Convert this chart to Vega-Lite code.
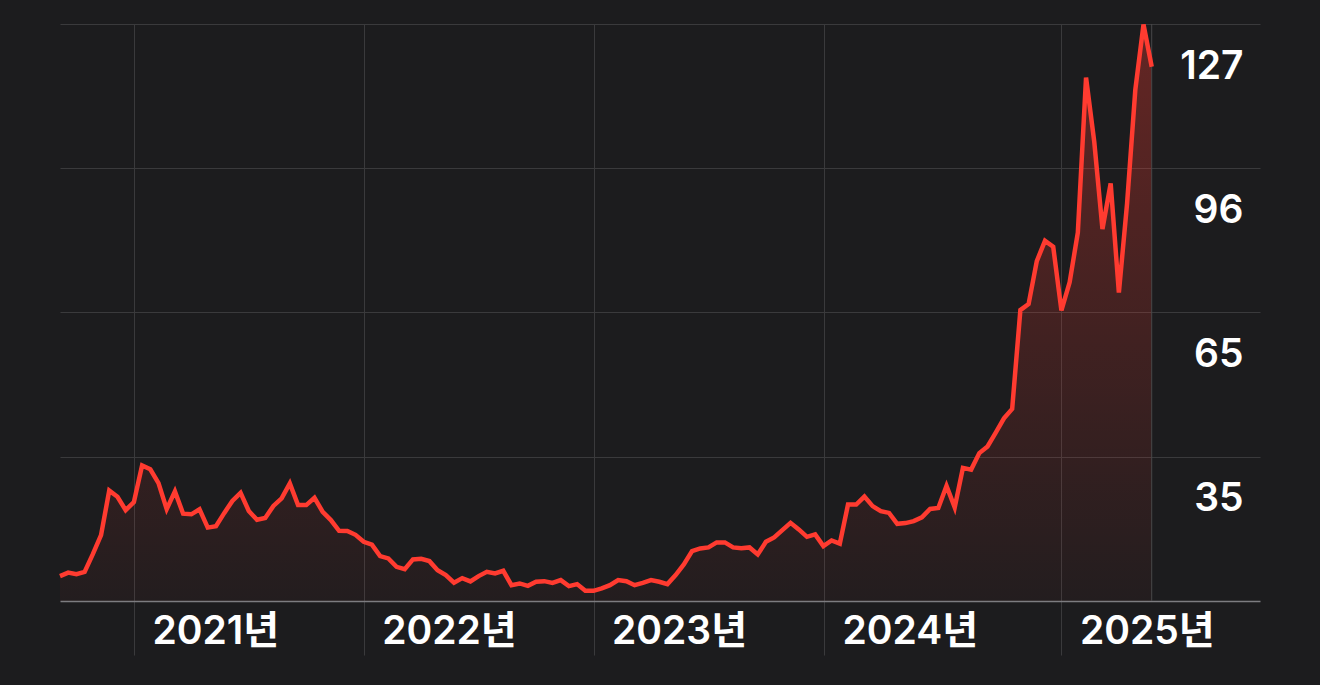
{
  "$schema": "https://vega.github.io/schema/vega-lite/v6.json",
  "width": 1200,
  "height": 577,
  "autosize": {"type": "none"},
  "padding": {"left": 60, "top": 24, "right": 60, "bottom": 84},
  "background": "#1c1c1e",
  "config": {"view": {"stroke": null}},
  "datasets": {
    "prices": [
      {"date": "2020-09-08", "price": 9.62},
      {"date": "2020-09-21", "price": 10.36},
      {"date": "2020-10-04", "price": 10.04},
      {"date": "2020-10-17", "price": 10.51},
      {"date": "2020-10-30", "price": 14.30},
      {"date": "2020-11-12", "price": 18.34},
      {"date": "2020-11-25", "price": 27.80},
      {"date": "2020-12-08", "price": 26.48},
      {"date": "2020-12-21", "price": 23.65},
      {"date": "2021-01-03", "price": 25.35},
      {"date": "2021-01-16", "price": 33.16},
      {"date": "2021-01-29", "price": 32.33},
      {"date": "2021-02-11", "price": 29.39},
      {"date": "2021-02-24", "price": 23.86},
      {"date": "2021-03-09", "price": 27.63},
      {"date": "2021-03-22", "price": 22.89},
      {"date": "2021-04-04", "price": 22.76},
      {"date": "2021-04-17", "price": 23.82},
      {"date": "2021-04-30", "price": 19.93},
      {"date": "2021-05-13", "price": 20.21},
      {"date": "2021-05-26", "price": 23.01},
      {"date": "2021-06-08", "price": 25.61},
      {"date": "2021-06-21", "price": 27.33},
      {"date": "2021-07-04", "price": 23.48},
      {"date": "2021-07-17", "price": 21.59},
      {"date": "2021-07-30", "price": 21.99},
      {"date": "2021-08-12", "price": 24.55},
      {"date": "2021-08-25", "price": 26.14},
      {"date": "2021-09-07", "price": 29.33},
      {"date": "2021-09-20", "price": 24.72},
      {"date": "2021-10-03", "price": 24.72},
      {"date": "2021-10-16", "price": 26.27},
      {"date": "2021-10-29", "price": 23.29},
      {"date": "2021-11-11", "price": 21.53},
      {"date": "2021-11-24", "price": 19.25},
      {"date": "2021-12-07", "price": 19.23},
      {"date": "2021-12-20", "price": 18.40},
      {"date": "2022-01-02", "price": 16.91},
      {"date": "2022-01-15", "price": 16.32},
      {"date": "2022-01-28", "price": 13.87},
      {"date": "2022-02-10", "price": 13.38},
      {"date": "2022-02-23", "price": 11.60},
      {"date": "2022-03-08", "price": 11.11},
      {"date": "2022-03-21", "price": 13.17},
      {"date": "2022-04-03", "price": 13.30},
      {"date": "2022-04-16", "price": 12.81},
      {"date": "2022-04-29", "price": 10.89},
      {"date": "2022-05-12", "price": 9.83},
      {"date": "2022-05-25", "price": 8.23},
      {"date": "2022-06-07", "price": 9.19},
      {"date": "2022-06-20", "price": 8.49},
      {"date": "2022-07-03", "price": 9.62},
      {"date": "2022-07-16", "price": 10.53},
      {"date": "2022-07-29", "price": 10.19},
      {"date": "2022-08-11", "price": 10.75},
      {"date": "2022-08-24", "price": 7.70},
      {"date": "2022-09-06", "price": 8.06},
      {"date": "2022-09-19", "price": 7.55},
      {"date": "2022-10-02", "price": 8.41},
      {"date": "2022-10-15", "price": 8.55},
      {"date": "2022-10-28", "price": 8.19},
      {"date": "2022-11-10", "price": 8.77},
      {"date": "2022-11-23", "price": 7.49},
      {"date": "2022-12-06", "price": 7.92},
      {"date": "2022-12-19", "price": 6.49},
      {"date": "2023-01-01", "price": 6.49},
      {"date": "2023-01-14", "price": 7.00},
      {"date": "2023-01-27", "price": 7.70},
      {"date": "2023-02-09", "price": 8.77},
      {"date": "2023-02-22", "price": 8.55},
      {"date": "2023-03-07", "price": 7.70},
      {"date": "2023-03-20", "price": 8.19},
      {"date": "2023-04-02", "price": 8.77},
      {"date": "2023-04-15", "price": 8.41},
      {"date": "2023-04-28", "price": 7.92},
      {"date": "2023-05-11", "price": 9.83},
      {"date": "2023-05-24", "price": 12.11},
      {"date": "2023-06-06", "price": 14.93},
      {"date": "2023-06-19", "price": 15.51},
      {"date": "2023-07-02", "price": 15.72},
      {"date": "2023-07-15", "price": 16.78},
      {"date": "2023-07-28", "price": 16.78},
      {"date": "2023-08-10", "price": 15.72},
      {"date": "2023-08-23", "price": 15.57},
      {"date": "2023-09-05", "price": 15.72},
      {"date": "2023-09-18", "price": 14.23},
      {"date": "2023-10-01", "price": 16.91},
      {"date": "2023-10-14", "price": 17.85},
      {"date": "2023-10-27", "price": 19.40},
      {"date": "2023-11-09", "price": 20.95},
      {"date": "2023-11-22", "price": 19.55},
      {"date": "2023-12-05", "price": 17.97},
      {"date": "2023-12-18", "price": 18.48},
      {"date": "2023-12-31", "price": 16.00},
      {"date": "2024-01-13", "price": 17.21},
      {"date": "2024-01-26", "price": 16.53},
      {"date": "2024-02-08", "price": 24.82},
      {"date": "2024-02-21", "price": 24.82},
      {"date": "2024-03-05", "price": 26.52},
      {"date": "2024-03-18", "price": 24.50},
      {"date": "2024-03-31", "price": 23.44},
      {"date": "2024-04-13", "price": 23.06},
      {"date": "2024-04-26", "price": 20.74},
      {"date": "2024-05-09", "price": 20.89},
      {"date": "2024-05-22", "price": 21.31},
      {"date": "2024-06-04", "price": 22.10},
      {"date": "2024-06-17", "price": 23.91},
      {"date": "2024-06-30", "price": 24.12},
      {"date": "2024-07-13", "price": 28.80},
      {"date": "2024-07-26", "price": 24.23},
      {"date": "2024-08-08", "price": 32.63},
      {"date": "2024-08-21", "price": 32.26},
      {"date": "2024-09-03", "price": 35.77},
      {"date": "2024-09-16", "price": 37.20},
      {"date": "2024-09-29", "price": 40.13},
      {"date": "2024-10-12", "price": 43.15},
      {"date": "2024-10-25", "price": 45.17},
      {"date": "2024-11-07", "price": 66.18},
      {"date": "2024-11-20", "price": 67.46},
      {"date": "2024-12-03", "price": 76.60},
      {"date": "2024-12-16", "price": 80.90},
      {"date": "2024-12-29", "price": 79.64},
      {"date": "2025-01-11", "price": 66.10},
      {"date": "2025-01-24", "price": 72.09},
      {"date": "2025-02-06", "price": 82.66},
      {"date": "2025-02-19", "price": 115.60},
      {"date": "2025-03-04", "price": 101.97},
      {"date": "2025-03-17", "price": 83.40},
      {"date": "2025-03-30", "price": 93.10},
      {"date": "2025-04-12", "price": 69.90},
      {"date": "2025-04-25", "price": 88.87},
      {"date": "2025-05-08", "price": 112.97},
      {"date": "2025-05-21", "price": 126.90},
      {"date": "2025-06-03", "price": 117.92}
    ],
    "latest": [{"date": "2025-06-03"}]
  },
  "layer": [
    {
      "data": {"name": "prices"},
      "mark": {
        "type": "area",
        "color": {
          "gradient": "linear",
          "x1": 0, "y1": 1, "x2": 0, "y2": 0,
          "stops": [
            {"offset": 0, "color": "rgba(255,59,48,0.03)"},
            {"offset": 1, "color": "rgba(255,59,48,0.32)"}
          ]
        }
      },
      "encoding": {
        "x": {
          "field": "date",
          "type": "temporal",
          "scale": {
            "type": "utc",
            "domain": [
              {"year": 2020, "month": 9, "date": 8, "utc": true},
              {"year": 2025, "month": 11, "date": 21, "hours": 12, "utc": true}
            ]
          },
          "axis": {
            "title": null,
            "values": [
              {"year": 2021, "month": 1, "date": 3, "utc": true},
              {"year": 2022, "month": 1, "date": 2, "utc": true},
              {"year": 2023, "month": 1, "date": 1, "utc": true},
              {"year": 2024, "month": 1, "date": 1, "utc": true},
              {"year": 2025, "month": 1, "date": 11, "utc": true}
            ],
            "labelExpr": "utcFormat(datum.value, '%Y') + '년'",
            "grid": true,
            "gridColor": "#3a3a3c",
            "gridWidth": 1,
            "ticks": true,
            "tickSize": 54,
            "tickColor": "#3a3a3c",
            "tickWidth": 1,
            "domain": true,
            "domainColor": "#7c7c80",
            "domainWidth": 1.5,
            "labelAlign": "left",
            "labelBaseline": "alphabetic",
            "labelOffset": 18,
            "labelPadding": -12,
            "labelFont": "Inter, Noto Sans CJK KR",
            "labelFontSize": 39,
            "labelFontWeight": 600,
            "labelColor": "#ffffff",
            "labelFlush": false,
            "labelOverlap": false
          }
        },
        "y": {
          "field": "price",
          "type": "quantitative",
          "scale": {"domain": [4.33, 127], "nice": false, "zero": false},
          "axis": {
            "title": null,
            "orient": "right",
            "values": [35, 65.667, 96.333, 127],
            "labelExpr": "format(floor(datum.value + 0.01), 'd')",
            "grid": true,
            "gridColor": "#3a3a3c",
            "gridWidth": 1,
            "ticks": false,
            "domain": false,
            "labelAlign": "right",
            "labelBaseline": "alphabetic",
            "labelPadding": -17,
            "labelOffset": 54,
            "labelFont": "Inter, Noto Sans CJK KR",
            "labelFontSize": 39,
            "labelFontWeight": 600,
            "labelColor": "#ffffff",
            "labelFlush": false,
            "labelOverlap": false
          }
        },
        "y2": {"datum": 4.33}
      }
    },
    {
      "data": {"name": "latest"},
      "mark": {"type": "rule", "color": "#48484a", "strokeWidth": 1},
      "encoding": {
        "x": {"field": "date", "type": "temporal"}
      }
    },
    {
      "data": {"name": "prices"},
      "mark": {"type": "line", "color": "#ff3b30", "strokeWidth": 4.5, "strokeJoin": "miter"},
      "encoding": {
        "x": {"field": "date", "type": "temporal"},
        "y": {"field": "price", "type": "quantitative"}
      }
    }
  ]
}
